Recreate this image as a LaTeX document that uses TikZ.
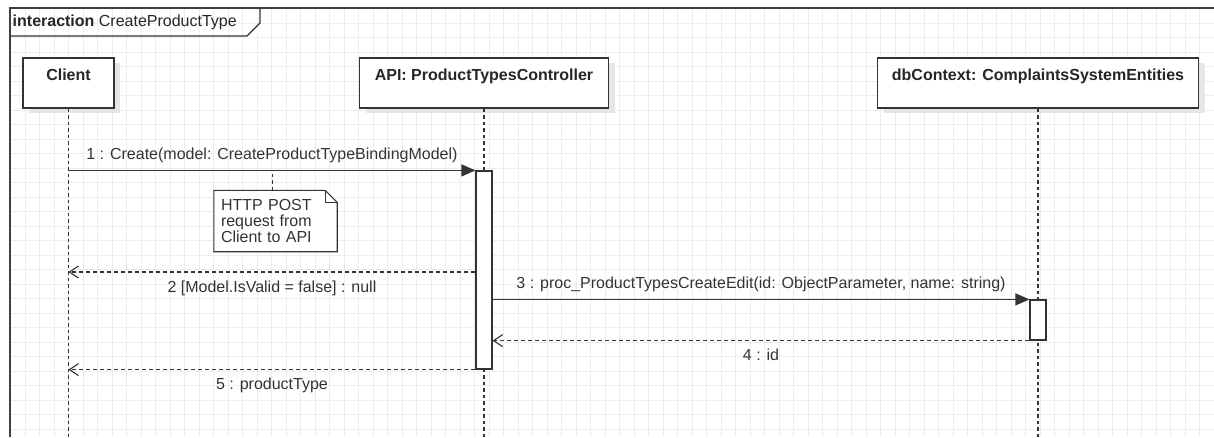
\documentclass[tikz,border=0pt]{standalone}
\usepackage{fontspec}
\setmainfont{Liberation Sans}
\usetikzlibrary{arrows.meta,positioning,shadows}
\definecolor{umlline}{HTML}{333333}
\definecolor{umltext}{HTML}{333333}
\definecolor{umlgrid}{HTML}{EDEDED}
\definecolor{umlframe}{HTML}{404040}
\definecolor{umlshadow}{HTML}{E6E6E6}

\begin{document}
\begin{tikzpicture}[x=1pt,y=-1pt,
  font={\fontsize{16}{16}\selectfont},
  gridline/.style={umlgrid,line width=1pt},
  objbox/.style={draw=umlline,fill=white,line width=1.2pt,minimum height=50pt,inner sep=0pt,
    drop shadow={shadow xshift=6pt,shadow yshift=-5pt,fill=umlshadow,opacity=1}},
  objname/.style={font={\fontsize{16}{16}\selectfont\bfseries},text=black!85,anchor=north,
    text height=11.5pt,inner sep=0pt},
  lifeline/.style={umlline,line width=1.1pt,dash pattern=on 3.5pt off 3pt},
  actbar/.style={draw=umlline,fill=white,line width=1.2pt,minimum width=16pt,inner sep=0pt},
  call/.style={umlline,line width=1.2pt,-{Triangle[length=14pt,width=12pt]}},
  reply/.style={umlline,line width=1.1pt,dash pattern=on 4pt off 3pt,-{Straight Barb[length=9pt,width=12pt]}},
  msglabel/.style={text=umltext,inner sep=0pt,text height=11.5pt,text depth=3.5pt},
]
  \useasboundingbox (0,0) rectangle (1214,437);
  % background grid
  \foreach \k in {0,...,82} {\draw[gridline] ({10.5+14.5*\k},9) -- ({10.5+14.5*\k},437);}
  \foreach \k in {1,...,29} {\draw[gridline] (10,{8.5+14.5*\k}) -- (1214,{8.5+14.5*\k});}
  % interaction frame
  \draw[umlframe,line width=2pt] (10,437) -- (10,8);
  \draw[umlframe,line width=2.6pt] (9,8) -- (1214,8);
  \draw[umlline,line width=1.1pt] (10,36) -- (247,36) -- (260,23) -- (260,8);
  \node[anchor=west,inner sep=0pt,text=black!85] (frametitle) at (12.5,22) {\textbf{interaction} CreateProductType};
  % participants
  \node[objbox,minimum width=91pt] (client) at (68.5,83) {};
  \node[objbox,minimum width=249pt] (api) at (484,83) {};
  \node[objbox,minimum width=321pt] (db) at (1038,83) {};
  \node[objname] (clientname) at ([yshift=-11pt]client.north) {Client};
  \node[objname] (apiname) at ([yshift=-11pt]api.north) {API: ProductTypesController};
  \node[objname] (dbname) at ([yshift=-11pt]db.north) {dbContext: ComplaintsSystemEntities};
  \foreach \o in {client,api,db} {
    \coordinate (\o-end) at (\o.south |- 0,437);
    \draw[lifeline] (\o.south) -- (\o-end);
  }
  % activations
  \node[actbar,minimum height=198pt] (apibar) at (484,270) {};
  \node[actbar,minimum height=40pt] (dbbar) at (1038,320) {};
  % messages
  \coordinate (m1) at (client.south |- apibar.north);
  \coordinate (m2) at (68.5,272);
  \coordinate (m5) at (client.south |- apibar.south);
  \draw[call] (m1) -- node[msglabel,above=6.5pt] (m1label) {1 : Create(model: CreateProductTypeBindingModel)} (apibar.north west);
  \draw[reply] (apibar.west |- m2) -- node[msglabel,below=8pt] (m2label) {2 [Model.IsValid = false] : null} (m2);
  \draw[call] (apibar.east |- dbbar.north) -- node[msglabel,above=6.5pt] (m3label) {3 : proc\_ProductTypesCreateEdit(id: ObjectParameter, name: string)} (dbbar.north west);
  \draw[reply] (dbbar.south west) -- node[msglabel,below=8pt] (m4label) {4 : id} (apibar.east |- dbbar.south);
  \draw[reply] (apibar.south west) -- node[msglabel,below=8pt] (m5label) {5 : productType} (m5);
  % note
  \node[fill=white,text=umltext,align=left,text width=109pt,minimum width=123pt,minimum height=61pt,inner sep=0pt] (note) at (275.5,221) {HTTP POST\\request from\\Client to API};
  \draw[umlline,line width=1.1pt] (note.north west) -- ([xshift=-12pt]note.north east) -- ([yshift=-12pt]note.north east) -- (note.south east) -- (note.south west) -- cycle;
  \draw[umlline,line width=1.1pt] ([xshift=-12pt]note.north east) |- ([yshift=-12pt]note.north east);
  \draw[lifeline] ([xshift=-3pt]note.north) -- ([xshift=-3pt]note.north |- m1);
\end{tikzpicture}
\end{document}
